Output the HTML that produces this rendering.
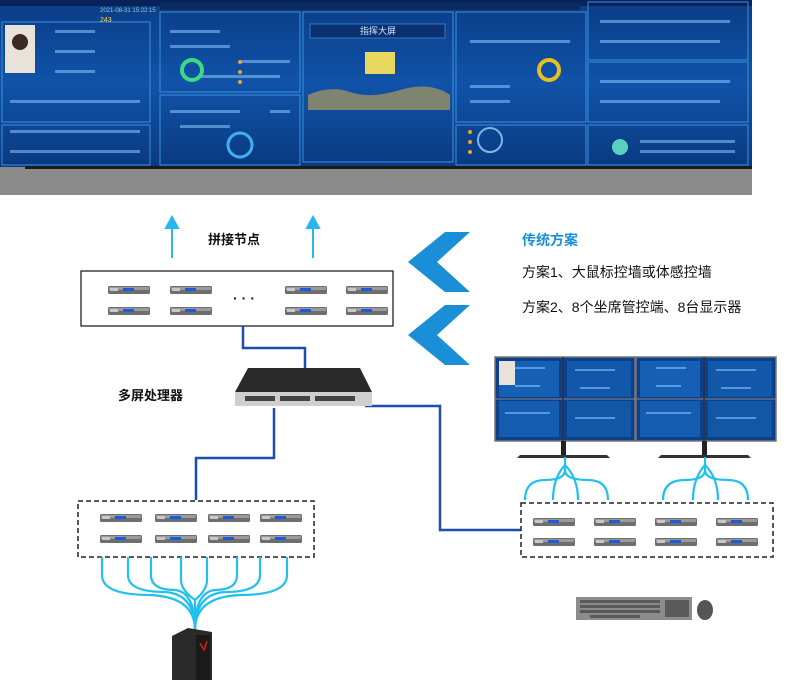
<!DOCTYPE html>
<html><head><meta charset="utf-8"><style>
html,body{margin:0;padding:0;background:#fff;}
svg{display:block;}
text{font-family:"Liberation Sans","Noto Sans CJK SC",sans-serif;}
</style></head><body>
<svg width="800" height="680" viewBox="0 0 800 680" xmlns="http://www.w3.org/2000/svg">
<defs>
<linearGradient id="db" x1="0" y1="0" x2="0" y2="1">
<stop offset="0" stop-color="#0b3c86"/><stop offset="0.5" stop-color="#1053a8"/><stop offset="1" stop-color="#0a3a80"/>
</linearGradient>
<g id="dev">
<rect x="0" y="0" width="42" height="8" rx="1.5" fill="#6e6e6e"/>
<rect x="1" y="1" width="40" height="3" fill="#9a9a9a"/>
<rect x="15" y="2" width="11" height="3" fill="#1f5bd6"/>
<rect x="2" y="2" width="8" height="3" fill="#c8c8c8"/>
</g>
<g id="mon">
<rect x="0" y="0" width="140" height="84" fill="#0d3f8a" stroke="#777" stroke-width="1.5"/>
<rect x="4" y="4" width="60" height="36" fill="#1560b4"/>
<rect x="72" y="4" width="64" height="36" fill="#1258aa"/>
<rect x="4" y="44" width="60" height="36" fill="#145cb0"/>
<rect x="72" y="44" width="64" height="36" fill="#1256a6"/>
<g fill="#7fc4ff" opacity="0.6">
<rect x="20" y="10" width="30" height="2"/><rect x="80" y="12" width="40" height="2"/>
<rect x="10" y="55" width="45" height="2"/><rect x="80" y="60" width="40" height="2"/>
<rect x="20" y="28" width="25" height="2"/><rect x="85" y="30" width="30" height="2"/>
</g>
<line x1="0" y1="42" x2="140" y2="42" stroke="#888" stroke-width="1"/>
<line x1="68" y1="0" x2="68" y2="84" stroke="#333" stroke-width="1.5"/>
<rect x="66" y="84" width="5" height="14" fill="#222"/>
<path d="M22 101 L115 101 L112 98 L25 98Z" fill="#333"/>
</g>
</defs>

<!-- dashboard -->
<rect x="0" y="0" width="752" height="167" fill="url(#db)"/>
<rect x="0" y="0" width="752" height="6" fill="#06245a"/>
<rect x="0" y="167" width="752" height="28" fill="#8a8a8a"/>
<rect x="25" y="166" width="727" height="3" fill="#1a1a1a"/>
<g fill="none" stroke="#3a90e0" stroke-width="1">
<rect x="2" y="22" width="148" height="100"/>
<rect x="2" y="125" width="148" height="40"/>
<rect x="160" y="12" width="140" height="80"/>
<rect x="160" y="95" width="140" height="70"/>
<rect x="303" y="12" width="150" height="150"/>
<rect x="456" y="12" width="130" height="110"/>
<rect x="456" y="125" width="130" height="40"/>
<rect x="588" y="2" width="160" height="58"/>
<rect x="588" y="62" width="160" height="60"/>
<rect x="588" y="125" width="160" height="40"/>
</g>
<g fill="#8cc8ff" opacity="0.55">
<rect x="170" y="30" width="50" height="3"/><rect x="170" y="45" width="60" height="3"/><rect x="240" y="60" width="50" height="3"/>
<rect x="200" y="75" width="80" height="3"/><rect x="170" y="110" width="70" height="3"/><rect x="180" y="125" width="50" height="3"/>
<rect x="270" y="110" width="20" height="3"/><rect x="470" y="40" width="100" height="3"/><rect x="470" y="85" width="40" height="3"/>
<rect x="470" y="100" width="40" height="3"/><rect x="600" y="20" width="130" height="3"/><rect x="600" y="40" width="120" height="3"/>
<rect x="600" y="80" width="130" height="3"/><rect x="600" y="100" width="120" height="3"/><rect x="640" y="140" width="95" height="3"/>
<rect x="640" y="150" width="95" height="3"/><rect x="10" y="130" width="130" height="3"/><rect x="10" y="150" width="130" height="3"/>
<rect x="55" y="30" width="40" height="3"/><rect x="55" y="50" width="40" height="3"/><rect x="55" y="70" width="40" height="3"/>
<rect x="10" y="100" width="130" height="3"/>
</g>
<g fill="#f0a030">
<circle cx="470" cy="132" r="2"/><circle cx="470" cy="142" r="2"/><circle cx="470" cy="152" r="2"/>
<circle cx="240" cy="62" r="2"/><circle cx="240" cy="72" r="2"/><circle cx="240" cy="82" r="2"/>
</g>
<rect x="5" y="25" width="30" height="48" fill="#e8e2da"/>
<circle cx="20" cy="42" r="8" fill="#3a2a20"/>
<rect x="310" y="24" width="135" height="14" fill="#0a3070" stroke="#4aa0f0" stroke-width="0.6"/>
<text x="378" y="34" font-size="9" fill="#cfe6ff" text-anchor="middle">指挥大屏</text>
<rect x="365" y="52" width="30" height="22" fill="#e8d860"/>
<path d="M308 95 Q330 85 350 92 T400 90 T450 95 L450 110 L308 110Z" fill="#c8a850" opacity="0.6"/>
<circle cx="192" cy="70" r="10" fill="none" stroke="#3ddc84" stroke-width="4"/>
<circle cx="240" cy="145" r="12" fill="none" stroke="#3fb0f0" stroke-width="3"/>
<circle cx="490" cy="140" r="12" fill="none" stroke="#7ab8e8" stroke-width="2"/>
<circle cx="549" cy="70" r="10" fill="none" stroke="#e6c020" stroke-width="4"/>
<circle cx="620" cy="147" r="8" fill="#5ad0c0"/>
<text x="100" y="12" font-size="6" fill="#9cc">2021-08-31 15:22:15</text>
<text x="100" y="22" font-size="7" fill="#ffd34a">243</text>
<rect x="160" y="3" width="420" height="7" fill="#0a2a60"/>

<!-- up arrows -->
<g stroke="#29b6f0" stroke-width="2" fill="#29b6f0">
<line x1="172" y1="258" x2="172" y2="226"/>
<path d="M166 228 L172 217 L178 228Z"/>
<line x1="313" y1="258" x2="313" y2="226"/>
<path d="M307 228 L313 217 L319 228Z"/>
</g>
<text x="208" y="244" font-size="13" font-weight="bold" fill="#111">拼接节点</text>

<!-- box1 -->
<rect x="81" y="271" width="312" height="55" fill="#fff" stroke="#111" stroke-width="1.2"/>
<use href="#dev" x="108" y="286"/><use href="#dev" x="170" y="286"/>
<use href="#dev" x="285" y="286"/><use href="#dev" x="346" y="286"/>
<use href="#dev" x="108" y="307"/><use href="#dev" x="170" y="307"/>
<use href="#dev" x="285" y="307"/><use href="#dev" x="346" y="307"/>
<text x="233" y="303" font-size="14" font-weight="bold" fill="#111" letter-spacing="4">···</text>

<!-- blue connectors -->
<g fill="none" stroke="#1a4fb0" stroke-width="2.5">
<path d="M243 326 V348 H305 V368"/>
<path d="M274 408 V458 H196 V500"/>
<path d="M365 406 H440 V530 H521"/>
</g>

<!-- switch -->
<path d="M248 368 L360 368 L372 392 L235 392Z" fill="#2a2a2a"/>
<rect x="235" y="392" width="137" height="14" fill="#cfcfcf"/>
<g fill="#444"><rect x="245" y="396" width="30" height="5"/><rect x="280" y="396" width="30" height="5"/><rect x="315" y="396" width="40" height="5"/></g>
<text x="118" y="400" font-size="13" font-weight="bold" fill="#111">多屏处理器</text>

<!-- box2 -->
<rect x="78" y="501" width="236" height="56" fill="#fff" stroke="#222" stroke-width="1.5" stroke-dasharray="5,3"/>
<use href="#dev" x="100" y="514"/><use href="#dev" x="155" y="514"/><use href="#dev" x="208" y="514"/><use href="#dev" x="260" y="514"/>
<use href="#dev" x="100" y="535"/><use href="#dev" x="155" y="535"/><use href="#dev" x="208" y="535"/><use href="#dev" x="260" y="535"/>
<g fill="none" stroke="#22c0ee" stroke-width="2.2">
<path d="M102 557 V575 Q102 595 150 595 Q195 597 195 630"/>
<path d="M128 557 V575 Q128 592 165 592 Q195 594 195 630"/>
<path d="M151 557 V575 Q151 590 175 590 Q195 592 195 630"/>
<path d="M181 557 V580 Q181 590 195 600 V630"/>
<path d="M207 557 V580 Q207 590 195 600"/>
<path d="M237 557 V575 Q237 590 215 590 Q195 592 195 630"/>
<path d="M260 557 V575 Q260 592 225 592 Q195 594 195 630"/>
<path d="M287 557 V575 Q287 595 240 595 Q195 597 195 630"/>
</g>
<!-- computer -->
<path d="M172 636 L188 628 L212 632 L212 680 L172 680Z" fill="#2a2a2a"/>
<rect x="196" y="635" width="14" height="45" fill="#1a1a1a"/>
<path d="M200 643 L204 650 L207 641" stroke="#d02020" stroke-width="1.5" fill="none"/>

<!-- chevrons -->
<polygon points="445,232 470,232 437,262 470,292 445,292 408,262" fill="#1a8fd8"/>
<polygon points="445,305 470,305 437,335 470,365 445,365 408,335" fill="#1a8fd8"/>
<text x="522" y="245" font-size="14" font-weight="bold" fill="#1a8fd8">传统方案</text>
<text x="522" y="277" font-size="14" fill="#111">方案1、大鼠标控墙或体感控墙</text>
<text x="522" y="312" font-size="14" fill="#111">方案2、8个坐席管控端、8台显示器</text>

<!-- monitors -->
<use href="#mon" x="495" y="357"/>
<use href="#mon" x="636" y="357"/>
<rect x="499" y="361" width="16" height="24" fill="#e8e2da"/>

<!-- right fans -->
<g fill="none" stroke="#22c0ee" stroke-width="2.2">
<path d="M565 457 V470 Q565 480 545 480 Q525 480 525 500"/>
<path d="M565 465 Q553 478 553 500"/>
<path d="M565 465 Q578 478 578 500"/>
<path d="M565 470 Q565 480 588 480 Q608 480 608 500"/>
<path d="M705 457 V470 Q705 480 685 480 Q663 480 663 500"/>
<path d="M705 465 Q693 478 693 500"/>
<path d="M705 465 Q718 478 718 500"/>
<path d="M705 470 Q705 480 728 480 Q748 480 748 500"/>
</g>
<rect x="521" y="503" width="252" height="54" fill="#fff" stroke="#222" stroke-width="1.5" stroke-dasharray="5,3"/>
<use href="#dev" x="533" y="518"/><use href="#dev" x="594" y="518"/><use href="#dev" x="655" y="518"/><use href="#dev" x="716" y="518"/>
<use href="#dev" x="533" y="538"/><use href="#dev" x="594" y="538"/><use href="#dev" x="655" y="538"/><use href="#dev" x="716" y="538"/>

<!-- keyboard & mouse -->
<rect x="576" y="597" width="116" height="23" fill="#8c8c8c"/>
<g fill="#5a5a5a">
<rect x="580" y="600" width="80" height="3"/><rect x="580" y="605" width="80" height="3"/>
<rect x="580" y="610" width="80" height="3"/><rect x="590" y="615" width="50" height="3"/>
<rect x="665" y="600" width="24" height="17"/>
</g>
<ellipse cx="705" cy="610" rx="8" ry="10" fill="#555"/>
</svg>
</body></html>
